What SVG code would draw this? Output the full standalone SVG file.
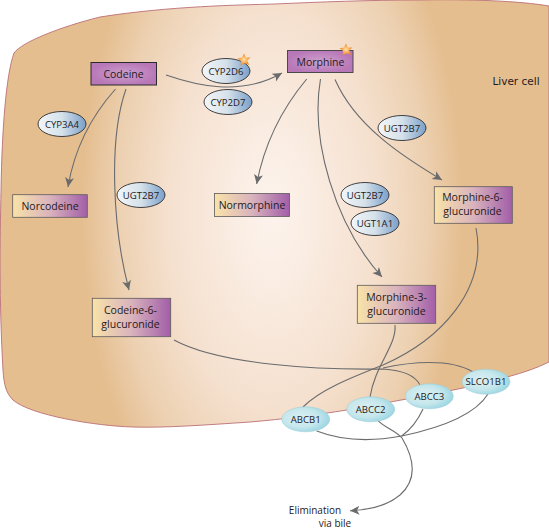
<svg xmlns="http://www.w3.org/2000/svg" width="549" height="532" viewBox="0 0 549 532">
<style>
text{font-family:"Open Sans","Noto Sans",sans-serif;fill:#1f1a1c;text-anchor:middle}
.n{font-size:10.500px}
.e{font-size:9.600px}
.b{stroke:#5d5a5c;stroke-width:0.8}
.c{fill:none;stroke:#6a6b6d;stroke-width:1.1}
.ez{stroke:#2e2e30;stroke-width:0.9;fill:url(#enz)}
.tr{stroke:#9ccbd5;stroke-width:0.5;fill:url(#trp)}
</style>
<defs>
<radialGradient id="cell" gradientUnits="userSpaceOnUse" cx="0" cy="0" r="1" gradientTransform="translate(272 210) scale(190 360)">
<stop offset="0" stop-color="#fdf4ee"/><stop offset="0.56" stop-color="#f5e0ce"/><stop offset="0.82" stop-color="#ecd0b0"/><stop offset="1" stop-color="#e5be90"/>
</radialGradient>
<linearGradient id="enz" x1="0" x2="1" y1="0" y2="0"><stop offset="0" stop-color="#f3f6f8"/><stop offset="0.5" stop-color="#d5e1ea"/><stop offset="1" stop-color="#7a9fc8"/></linearGradient>
<linearGradient id="met" x1="0" x2="1" y1="0" y2="0"><stop offset="0" stop-color="#f9e3a8"/><stop offset="0.5" stop-color="#d9b3bd"/><stop offset="1" stop-color="#a25ea8"/></linearGradient>
<radialGradient id="pur"><stop offset="0" stop-color="#cda0cc"/><stop offset="1" stop-color="#b878b8"/></radialGradient>
<radialGradient id="trp" cx="0.4" cy="0.45" r="0.6"><stop offset="0" stop-color="#dbf0f3"/><stop offset="0.6" stop-color="#c6e7ec"/><stop offset="1" stop-color="#9cd7e3"/></radialGradient>
<radialGradient id="st"><stop offset="0" stop-color="#fde3b0"/><stop offset="0.5" stop-color="#f9b05a"/><stop offset="1" stop-color="#f0811f"/></radialGradient>
<marker id="a" markerUnits="userSpaceOnUse" markerWidth="11" markerHeight="10" refX="9.500" refY="4.500" orient="auto"><path d="M0,0 L9.500,4.500 L0,9 L2.500,4.500Z" fill="#6a6b6d"/></marker>
<path id="star" d="M0,-6.500L1.800,-2.400L6.300,-2.600L3.200,0.700L5.200,5L0.800,3.200L-3.400,5.600L-2.900,1L-6.400,-1.800L-2,-2.600Z" fill="url(#st)"/>
</defs>
<path id="liver-cell" d="M14,53 C22,42 60,27 100,17 C170,6 240,5 275,4 C320,2 370,0 420,0 C470,-1 520,1 549,6 L549,362 C525,374 495,380 463,388 C430,395 390,402 347,410 C315,415 285,419 250,422 C205,425 165,428 133,427 C95,426 30,415 13,400 C6,393 4,385 3,370 C-1,300 0,240 1,190 C2,130 6,75 14,53Z" fill="url(#cell)" stroke="#bb6f76" stroke-width="0.9"/>
<g id="connectors">
<path class="c" marker-end="url(#a)" d="M166,75 C195,85 240,97 282,73"/>
<path class="c" marker-end="url(#a)" d="M115.500,89 C95,112 75,145 68,187"/>
<path class="c" marker-end="url(#a)" d="M126,89 C108,140 113,230 129,290"/>
<path class="c" marker-end="url(#a)" d="M306.700,79 C285,105 265,140 256.700,184"/>
<path class="c" marker-end="url(#a)" d="M320.500,79 C310,140 335,225 382,277"/>
<path class="c" marker-end="url(#a)" d="M335,79.500 C355,125 400,155 442,180"/>
<path class="c" d="M476,228 C488,290 440,340 383,365 C350,378 320,390 303,407"/>
<path class="c" d="M395,325 C397,345 375,365 370,397"/>
<path class="c" d="M174,340 C220,365 320,370 383,369 C400,370 415,375 420,385"/>
<path class="c" d="M383,368 C410,362 450,358 473,372"/>
<path class="c" d="M316.700,431 C345,442 375,441 401.700,436 C440,428 475,415 488,394"/>
<path class="c" d="M423,409 C418,420 410,430 401.700,436"/>
<path class="c" marker-end="url(#a)" d="M378,420.700 C385,428 395,430 402,438 C415,460 417,480 400,495 C388,505 370,510 350,510.700"/>
</g>
<g id="codeine"><rect x="91" y="62.500" width="65.500" height="22.500" fill="url(#pur)" stroke="#2a2a2c"/><text class="n" x="123.500" y="77.500">Codeine</text></g>
<g id="morphine"><rect x="287.500" y="50.500" width="65.500" height="22" fill="url(#pur)" stroke="#4a4a4c"/><text class="n" x="320.500" y="65.500">Morphine</text><use href="#star" x="346" y="50"/></g>
<g id="cyp2d6"><ellipse class="ez" cx="226" cy="71" rx="24" ry="12.500"/><text class="e" x="226" y="74.500">CYP2D6</text><use href="#star" x="244" y="60"/></g>
<g id="cyp2d7"><ellipse class="ez" cx="228" cy="102" rx="24" ry="12.500"/><text class="e" x="228" y="105.500">CYP2D7</text></g>
<g id="cyp3a4"><ellipse class="ez" cx="62" cy="124" rx="24" ry="12.500"/><text class="e" x="62" y="127.500">CYP3A4</text></g>
<g id="ugt2b7-a"><ellipse class="ez" cx="141" cy="195" rx="24" ry="12.500"/><text class="e" x="141" y="198.500">UGT2B7</text></g>
<g id="ugt2b7-b"><ellipse class="ez" cx="402" cy="128" rx="24" ry="12.500"/><text class="e" x="402" y="131.500">UGT2B7</text></g>
<g id="ugt2b7-c"><ellipse class="ez" cx="365" cy="195" rx="24" ry="12.500"/><text class="e" x="365" y="198.500">UGT2B7</text></g>
<g id="ugt1a1"><ellipse class="ez" cx="375" cy="223" rx="24" ry="12.500"/><text class="e" x="375" y="226.500">UGT1A1</text></g>
<g id="norcodeine"><rect class="b" x="12.700" y="194.700" width="74.600" height="22.600" fill="url(#met)"/><text class="n" x="50" y="209.500">Norcodeine</text></g>
<g id="normorphine"><rect class="b" x="214.500" y="193.500" width="75" height="23" fill="url(#met)"/><text class="n" x="252" y="208.500">Normorphine</text></g>
<g id="morphine-6"><rect class="b" x="434.300" y="186.700" width="78" height="36.600" fill="url(#met)"/><text class="n" x="472.500" y="201">Morphine-6-</text><text class="n" x="472.500" y="215">glucuronide</text></g>
<g id="morphine-3"><rect class="b" x="357.300" y="285.300" width="78.400" height="38" fill="url(#met)"/><text class="n" x="396.500" y="300.500">Morphine-3-</text><text class="n" x="396.500" y="315">glucuronide</text></g>
<g id="codeine-6"><rect class="b" x="92.300" y="298.300" width="78.400" height="38.400" fill="url(#met)"/><text class="n" x="130.500" y="313.500">Codeine-6-</text><text class="n" x="130.500" y="328">glucuronide</text></g>
<g id="abcb1"><ellipse class="tr" cx="305.700" cy="419.300" rx="24" ry="12.500"/><text class="e" x="305.700" y="422.800">ABCB1</text></g>
<g id="abcc2"><ellipse class="tr" cx="370.700" cy="409.300" rx="24" ry="12.500"/><text class="e" x="370.700" y="412.800">ABCC2</text></g>
<g id="abcc3"><ellipse class="tr" cx="429.300" cy="396.300" rx="24" ry="12.500"/><text class="e" x="429.300" y="399.800">ABCC3</text></g>
<g id="slco1b1"><ellipse class="tr" cx="486" cy="381.700" rx="24" ry="12.500"/><text class="e" x="486" y="385.200">SLCO1B1</text></g>
<text x="516" y="85" style="font-family:'DejaVu Sans',sans-serif;font-size:10.500px">Liver cell</text>
<text x="315" y="514" style="font-size:10px">Elimination</text>
<text x="335" y="527" style="font-size:10px">via bile</text>
</svg>
